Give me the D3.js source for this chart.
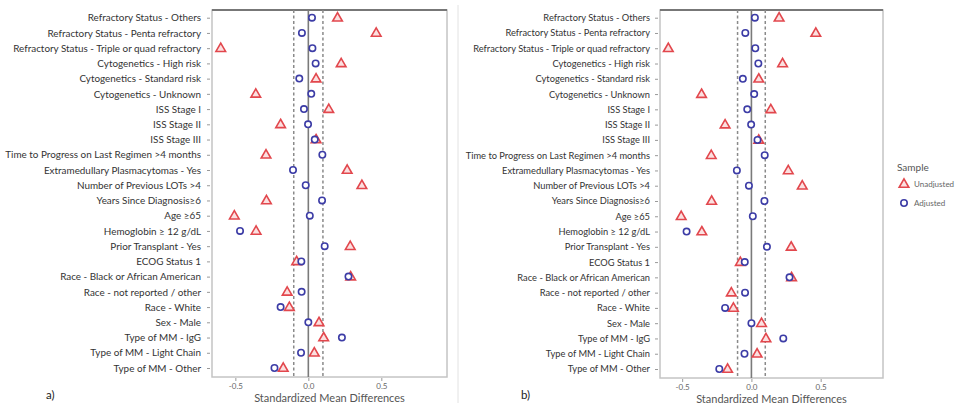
<!DOCTYPE html>
<html>
<head>
<meta charset="utf-8">
<script src="https://cdn.jsdelivr.net/npm/d3@7"></script>
<style>
  html, body { margin: 0; padding: 0; background: #fff; }
  svg { display: block; font-family: Lato, "Open Sans", sans-serif; }
</style>
</head>
<body>
<svg id="chart" width="956" height="408"></svg>
<script>
// Covariates, listed top to bottom
const categories = [
  "Refractory Status - Others",
  "Refractory Status - Penta refractory",
  "Refractory Status - Triple or quad refractory",
  "Cytogenetics - High risk",
  "Cytogenetics - Standard risk",
  "Cytogenetics - Unknown",
  "ISS Stage I",
  "ISS Stage II",
  "ISS Stage III",
  "Time to Progress on Last Regimen >4 months",
  "Extramedullary Plasmacytomas - Yes",
  "Number of Previous LOTs >4",
  "Years Since Diagnosis≥6",
  "Age ≥65",
  "Hemoglobin ≥ 12 g/dL",
  "Prior Transplant - Yes",
  "ECOG Status 1",
  "Race - Black or African American",
  "Race - not reported / other",
  "Race - White",
  "Sex - Male",
  "Type of MM - IgG",
  "Type of MM - Light Chain",
  "Type of MM - Other"
];

// Standardized mean differences before weighting
const unadjusted = [
  0.20, 0.465, -0.60, 0.225, 0.053, -0.36, 0.14, -0.19, 0.053, -0.29, 0.266, 0.367,
  -0.287, -0.507, -0.358, 0.287, -0.08, 0.29, -0.145, -0.13, 0.073, 0.105, 0.041, -0.172
];

// Standardized mean differences after weighting
const adjusted = [
  0.025, -0.044, 0.028, 0.05, -0.062, 0.02, -0.03, -0.002, 0.044, 0.096, -0.105, -0.018,
  0.094, 0.01, -0.468, 0.112, -0.048, 0.275, -0.046, -0.19, 0.0, 0.23, -0.05, -0.232
];

const xTicks = [-0.5, 0.0, 0.5];
const xDomain = [-0.66, 0.95];
const threshold = 0.1;

const seriesNames = ["Unadjusted", "Adjusted"];
const colors = { Unadjusted: "#e2474d", Adjusted: "#3c3ca6" };

const svg = d3.select("#chart");

// Thin divider between the two panels
svg.append("line")
  .attr("x1", 458).attr("x2", 458).attr("y1", 5).attr("y2", 403)
  .attr("stroke", "#e2e2e2").attr("stroke-width", 1);

const triangle = d3.symbol().type(d3.symbolTriangle).size(40);

function drawPanel(p) {
  const g = svg.append("g");
  const x = d3.scaleLinear().domain(xDomain).range([p.left, p.right]);
  const y = d3.scalePoint().domain(categories).range([p.top + 7.7, p.bottom - 9]);

  // Plot frame
  g.append("rect")
    .attr("x", p.left).attr("y", p.top)
    .attr("width", p.right - p.left).attr("height", p.bottom - p.top)
    .attr("fill", "none").attr("stroke", "#c4c4c4").attr("stroke-width", 1.5);
  g.append("line")
    .attr("x1", p.left).attr("x2", p.right).attr("y1", p.top).attr("y2", p.top)
    .attr("stroke", "#777").attr("stroke-width", 2);

  // Zero line and +/- threshold lines
  g.append("line")
    .attr("x1", x(0)).attr("x2", x(0)).attr("y1", p.top).attr("y2", p.bottom)
    .attr("stroke", "#7a7a7a").attr("stroke-width", 1.6);
  [-threshold, threshold].forEach(t => {
    g.append("line")
      .attr("x1", x(t)).attr("x2", x(t)).attr("y1", p.top).attr("y2", p.bottom)
      .attr("stroke", "#8a8a8a").attr("stroke-width", 1.5)
      .attr("stroke-dasharray", "3,2.5");
  });

  // Category axis
  const yAxis = g.append("g")
    .attr("transform", `translate(${p.left - 2},0)`)
    .call(d3.axisLeft(y).tickSize(3).tickPadding(p.labelPad));
  yAxis.select(".domain").remove();
  yAxis.selectAll(".tick line").attr("stroke", "#999");
  yAxis.selectAll(".tick text")
    .attr("fill", "#333").style("font-size", p.labelSize + "px")
    .style("font-family", "Lato, 'Open Sans', sans-serif");

  // Value axis
  const xAxis = g.append("g")
    .attr("transform", `translate(0,${p.bottom + 1})`)
    .call(d3.axisBottom(x).tickValues(xTicks).tickSize(3).tickPadding(2)
      .tickFormat(d => d.toFixed(1)));
  xAxis.select(".domain").remove();
  xAxis.selectAll(".tick line").attr("stroke", "#999");
  xAxis.selectAll(".tick text")
    .attr("fill", "#666").style("font-size", "8px")
    .style("font-family", "Lato, 'Open Sans', sans-serif");

  g.append("text")
    .attr("x", (p.left + p.right) / 2).attr("y", p.bottom + 25)
    .attr("text-anchor", "middle")
    .attr("fill", "#555").style("font-size", "11px")
    .text("Standardized Mean Differences");

  // Unadjusted triangles, then adjusted circles on top
  g.append("g").selectAll("path")
    .data(categories.map((c, i) => ({ c, v: unadjusted[i] })))
    .join("path")
    .attr("d", triangle)
    .attr("transform", d => `translate(${x(d.v)},${y(d.c) + 0.5})`)
    .attr("fill", "#fbe0e0").attr("stroke", colors.Unadjusted).attr("stroke-width", 1.6);

  g.append("g").selectAll("circle")
    .data(categories.map((c, i) => ({ c, v: adjusted[i] })))
    .join("circle")
    .attr("cx", d => x(d.v)).attr("cy", d => y(d.c))
    .attr("r", 3.2)
    .attr("fill", "#fff").attr("stroke", colors.Adjusted).attr("stroke-width", 1.6);

  g.append("text")
    .attr("x", p.tagX).attr("y", 399)
    .attr("fill", "#222").style("font-size", "11.5px")
    .text(p.tag);
}

drawPanel({ left: 212, right: 447, top: 10, bottom: 377, tag: "a)", tagX: 46, labelSize: 9.9, labelPad: 6 });
drawPanel({ left: 660, right: 883, top: 10, bottom: 378, tag: "b)", tagX: 521, labelSize: 9.3, labelPad: 5 });

// Legend
const legend = svg.append("g").attr("transform", "translate(897,0)");
legend.append("text")
  .attr("x", 0).attr("y", 171)
  .attr("fill", "#555").style("font-size", "10px")
  .text("Sample");
seriesNames.forEach((s, i) => {
  const cy = 184 + i * 19;
  if (s === "Unadjusted") {
    legend.append("path").attr("d", triangle)
      .attr("transform", `translate(7,${cy + 0.5})`)
      .attr("fill", "#fbe0e0").attr("stroke", colors[s]).attr("stroke-width", 1.6);
  } else {
    legend.append("circle").attr("cx", 7).attr("cy", cy).attr("r", 3.2)
      .attr("fill", "#fff").attr("stroke", colors[s]).attr("stroke-width", 1.6);
  }
  legend.append("text")
    .attr("x", 17).attr("y", cy + 3)
    .attr("fill", "#666").style("font-size", "8px")
    .text(s);
});
</script>
</body>
</html>
